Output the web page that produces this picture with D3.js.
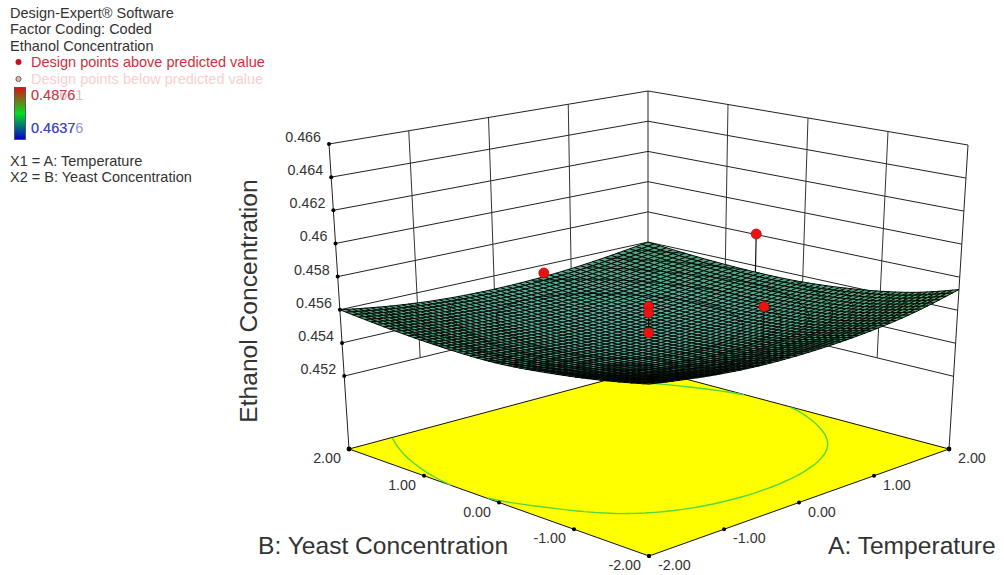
<!DOCTYPE html>
<html>
<head>
<meta charset="utf-8">
<script src="https://cdn.jsdelivr.net/npm/d3@7/dist/d3.min.js"></script>
<style>
  html, body { margin: 0; padding: 0; background: #fff; }
  text { font-family: "Liberation Sans", Arial, sans-serif; }
</style>
</head>
<body>
<div id="chart"></div>
<script>
'use strict';
// values
var zTicks = [0.452, 0.454, 0.456, 0.458, 0.46, 0.462, 0.464, 0.466];
var zTickLabels = ["0.452", "0.454", "0.456", "0.458", "0.46", "0.462", "0.464", "0.466"];
var factorTicks = [-2, -1, 0, 1, 2];
// one row per B (from -2 to 2 in steps of 0.5), one column per A (same steps)
var surfaceValues = [
  [0.45704, 0.45667, 0.45637, 0.45619, 0.45614, 0.45619, 0.45635, 0.45667, 0.45725],
  [0.45655, 0.45610, 0.45578, 0.45562, 0.45557, 0.45562, 0.45578, 0.45608, 0.45653],
  [0.45617, 0.45563, 0.45531, 0.45515, 0.45510, 0.45515, 0.45531, 0.45563, 0.45610],
  [0.45585, 0.45538, 0.45506, 0.45490, 0.45485, 0.45490, 0.45506, 0.45536, 0.45580],
  [0.45560, 0.45527, 0.45495, 0.45479, 0.45474, 0.45479, 0.45495, 0.45522, 0.45560],
  [0.45558, 0.45523, 0.45493, 0.45477, 0.45472, 0.45477, 0.45493, 0.45520, 0.45557],
  [0.45564, 0.45529, 0.45502, 0.45486, 0.45481, 0.45486, 0.45502, 0.45529, 0.45564],
  [0.45578, 0.45541, 0.45514, 0.45498, 0.45493, 0.45498, 0.45514, 0.45541, 0.45578],
  [0.45600, 0.45563, 0.45536, 0.45520, 0.45515, 0.45520, 0.45536, 0.45563, 0.45600]
];
var pointA = [0, 1.38, 0, 0, 0, 0];
var pointB = [1.35, 0, 0, 0, 0, -1.48];
var pointZ = [0.4570, 0.4594, 0.4566, 0.4562, 0.4550, 0.4583];
var surfaceLevels = [0.4550, 0.4552, 0.4554, 0.4556, 0.4558, 0.4560, 0.4562, 0.4564, 0.4566, 0.4568, 0.4570];
var floorLevels = [0.4556];

var legendTop = ["Design-Expert\u00AE Software", "Factor Coding: Coded", "Ethanol Concentration"];
var legendBottom = ["X1 = A: Temperature", "X2 = B: Yeast Concentration"];

var width = 1004, height = 575;
var svg = d3.select("#chart").append("svg").attr("width", width).attr("height", height);

// box corners on screen, floor and top, key is [A side, B side]
var floorBox = { mm: [649, 556], mp: [349, 449], pp: [648, 369], pm: [949, 449] };
var topBox = { mm: [649, 221], mp: [329, 144], pp: [648, 91], pm: [968, 145] };

var factorScale = d3.scaleLinear().domain([-2, 2]).range([0, 1]);
var zScale = d3.scaleLinear().domain([0.4476, 0.466]).range([0, 1]);

function project(A, B, z) {
  var u = factorScale(A), v = factorScale(B), w = zScale(z);
  function corner(box, i) {
    return box.mm[i] * (1 - u) * (1 - v) + box.mp[i] * (1 - u) * v + box.pp[i] * u * v + box.pm[i] * u * (1 - v);
  }
  return [
    corner(floorBox, 0) * (1 - w) + corner(topBox, 0) * w,
    corner(floorBox, 1) * (1 - w) + corner(topBox, 1) * w
  ];
}
var floorZ = zScale.domain()[0];

// surface height at any A, B, smooth through the table
var rowSplines = surfaceValues.map(function(row) { return d3.interpolateBasis(row); });
function surfaceAt(A, B) {
  var u = factorScale(A), v = factorScale(B);
  return d3.interpolateBasis(rowSplines.map(function(f) { return f(u); }))(v);
}

var line = d3.line();
function edge(parent, from, to, color, w) {
  parent.append("path")
    .attr("d", line([project(from[0], from[1], from[2]), project(to[0], to[1], to[2])]))
    .attr("fill", "none").attr("stroke", color || "#222").attr("stroke-width", w || 1);
}

// floor
var floorG = svg.append("g");
floorG.append("path")
  .attr("d", line([[-2, -2], [-2, 2], [2, 2], [2, -2]].map(function(c) { return project(c[0], c[1], floorZ); })) + "Z")
  .attr("fill", "#ffff00").attr("stroke", "#111").attr("stroke-width", 1);

// walls
var wallG = svg.append("g");
var zBottom = zTicks[0], zTop = zTicks[zTicks.length - 1];
zTicks.forEach(function(z) {
  edge(wallG, [-2, 2, z], [2, 2, z]);
  edge(wallG, [2, 2, z], [2, -2, z]);
});
factorTicks.slice(1, 4).forEach(function(t) {
  edge(wallG, [t, 2, zBottom], [t, 2, zTop], "#333");
  edge(wallG, [2, t, zBottom], [2, t, zTop], "#333");
});
edge(wallG, [2, 2, zBottom], [2, 2, zTop]);
edge(wallG, [-2, 2, floorZ], [-2, 2, zTop]);
edge(wallG, [2, -2, floorZ], [2, -2, zTop]);

// grid for contours and mesh
var meshSize = 50;
var meshIndex = d3.range(meshSize + 1);
var meshFactor = d3.scaleLinear().domain([0, meshSize]).range([-2, 2]);
var matrix = [];
meshIndex.forEach(function(j) {
  meshIndex.forEach(function(i) {
    matrix.push(surfaceAt(meshFactor(i), meshFactor(j)));
  });
});

// contour lines without the parts that run along the border
function contourLines(level, z) {
  var shape = d3.contours().size([meshSize + 1, meshSize + 1]).thresholds([level])(matrix)[0];
  var out = "";
  function inside(c) {
    return c[0] > 0.5 && c[0] < meshSize + 0.5 && c[1] > 0.5 && c[1] < meshSize + 0.5;
  }
  shape.coordinates.forEach(function(poly) {
    poly.forEach(function(ring) {
      var pen = false;
      ring.forEach(function(c) {
        if (!inside(c)) { pen = false; return; }
        var p = project(meshFactor(c[0] - 0.5), meshFactor(c[1] - 0.5), z === undefined ? level : z);
        out += (pen ? "L" : "M") + p[0].toFixed(1) + "," + p[1].toFixed(1);
        pen = true;
      });
    });
  });
  return out;
}

floorLevels.forEach(function(level) {
  floorG.append("path").attr("d", contourLines(level, floorZ))
    .attr("fill", "none").attr("stroke", "#55d83c").attr("stroke-width", 1.4);
});

// floor ticks
var dotG = svg.append("g");
factorTicks.forEach(function(t) {
  [[t, -2], [-2, t]].forEach(function(c) {
    var p = project(c[0], c[1], floorZ);
    dotG.append("circle").attr("cx", p[0]).attr("cy", p[1]).attr("r", 2).attr("fill", "#000");
  });
});
[[2, -2], [-2, 2]].forEach(function(c) {
  var p = project(c[0], c[1], floorZ);
  dotG.append("circle").attr("cx", p[0]).attr("cy", p[1]).attr("r", 2.4).attr("fill", "#000");
});
zTicks.forEach(function(z) {
  var p = project(-2, 2, z);
  dotG.append("circle").attr("cx", p[0]).attr("cy", p[1]).attr("r", 2).attr("fill", "#000");
});

// stems behind the surface
var points = pointA.map(function(a, i) { return { A: a, B: pointB[i], z: pointZ[i] }; });
function stem(parent, d) {
  parent.append("path")
    .attr("d", line([project(d.A, d.B, d.z), project(d.A, d.B, surfaceAt(d.A, d.B))]))
    .attr("stroke", "#111").attr("stroke-width", 1.2).attr("fill", "none");
}
points.filter(function(d) { return d.A + d.B > 0; }).forEach(function(d) { stem(svg, d); });

// surface, back cells first
var surfaceColor = d3.scaleLinear().domain([0.4548, 0.4556, 0.4572]).range(["#5aaf9e", "#52a583", "#58ad68"]);
var cells = [];
d3.range(meshSize).forEach(function(j) {
  d3.range(meshSize).forEach(function(i) {
    cells.push({ i: i, j: j });
  });
});
cells.sort(function(a, b) { return (b.i + b.j) - (a.i + a.j); });
var surfaceG = svg.append("g");
surfaceG.selectAll("path").data(cells).enter().append("path")
  .attr("d", function(d) {
    var corners = [[d.i, d.j], [d.i + 1, d.j], [d.i + 1, d.j + 1], [d.i, d.j + 1]].map(function(c) {
      return project(meshFactor(c[0]), meshFactor(c[1]), matrix[c[1] * (meshSize + 1) + c[0]]);
    });
    return line(corners) + "Z";
  })
  .attr("fill", function(d) { return surfaceColor(matrix[d.j * (meshSize + 1) + d.i]); })
  .attr("stroke", "#050a06").attr("stroke-width", 1);

surfaceLevels.forEach(function(level) {
  surfaceG.append("path").attr("d", contourLines(level))
    .attr("fill", "none").attr("stroke", "#000").attr("stroke-width", 0.9).attr("opacity", 0.75);
});

// design points
points.filter(function(d) { return d.A + d.B <= 0; }).forEach(function(d) { stem(svg, d); });
svg.append("g").selectAll("circle").data(points).enter().append("circle")
  .attr("cx", function(d) { return project(d.A, d.B, d.z)[0]; })
  .attr("cy", function(d) { return project(d.A, d.B, d.z)[1]; })
  .attr("r", 5)
  .attr("fill", "#ee1111").attr("stroke", "#b00d0d").attr("stroke-width", 0.8);

// tick labels
var labelG = svg.append("g").attr("font-size", 14.3).attr("fill", "#333");
zTicks.forEach(function(z, i) {
  var p = project(-2, 2, z);
  labelG.append("text").attr("x", p[0] - 8).attr("y", p[1] - 2).attr("text-anchor", "end").text(zTickLabels[i]);
});
factorTicks.forEach(function(t) {
  var pa = project(t, -2, floorZ), pb = project(-2, t, floorZ);
  labelG.append("text").attr("x", pa[0] + 9).attr("y", pa[1] + 14).text(d3.format(".2f")(t).replace("\u2212", "-"));
  labelG.append("text").attr("x", pb[0] - 8).attr("y", pb[1] + 14).attr("text-anchor", "end").text(d3.format(".2f")(t).replace("\u2212", "-"));
});

// axis titles
var titleG = svg.append("g").attr("font-size", 24.6).attr("fill", "#333");
titleG.append("text").attr("transform", "translate(257,301) rotate(-90)").attr("text-anchor", "middle").text("Ethanol Concentration");
titleG.append("text").attr("x", 258).attr("y", 554).text("B: Yeast Concentration");
titleG.append("text").attr("x", 828).attr("y", 554).text("A: Temperature");

// legend
var legend = svg.append("g").attr("font-size", 14.5);
legendTop.forEach(function(t, i) {
  legend.append("text").attr("x", 10).attr("y", 18 + i * 16.3).attr("fill", "#333").text(t);
});
legendBottom.forEach(function(t, i) {
  legend.append("text").attr("x", 10).attr("y", 165.5 + i * 16).attr("fill", "#333").text(t);
});
legend.append("circle").attr("cx", 18.5).attr("cy", 62).attr("r", 3).attr("fill", "#c8101c");
legend.append("text").attr("x", 31).attr("y", 67).attr("fill", "#d0303c").text("Design points above predicted value");
legend.append("circle").attr("cx", 18.5).attr("cy", 79).attr("r", 2.6).attr("fill", "#eeb0b4").attr("stroke", "#666");
legend.append("text").attr("x", 31).attr("y", 83.5).attr("fill", "#f6d0d2").text("Design points below predicted value");

var grad = svg.append("defs").append("linearGradient").attr("id", "bar")
  .attr("x1", 0).attr("y1", 0).attr("x2", 0).attr("y2", 1);
[["0%", "#e01010"], ["50%", "#00e020"], ["100%", "#0000d0"]].forEach(function(s) {
  grad.append("stop").attr("offset", s[0]).attr("stop-color", s[1]);
});
legend.append("rect").attr("x", 14.5).attr("y", 87.5).attr("width", 11).attr("height", 52)
  .attr("fill", "url(#bar)").attr("stroke", "#444").attr("stroke-width", 0.8);
legend.append("text").attr("x", 31).attr("y", 100).attr("fill", "#f0b8bc").text("0.48661");
legend.append("text").attr("x", 31).attr("y", 100).attr("fill", "#cc3a44").text("0.4876");
legend.append("text").attr("x", 31).attr("y", 133).attr("fill", "#8f94dc").text("0.46376");
legend.append("text").attr("x", 31).attr("y", 133).attr("fill", "#3c44b8").text("0.4637");
</script>
</body>
</html>
